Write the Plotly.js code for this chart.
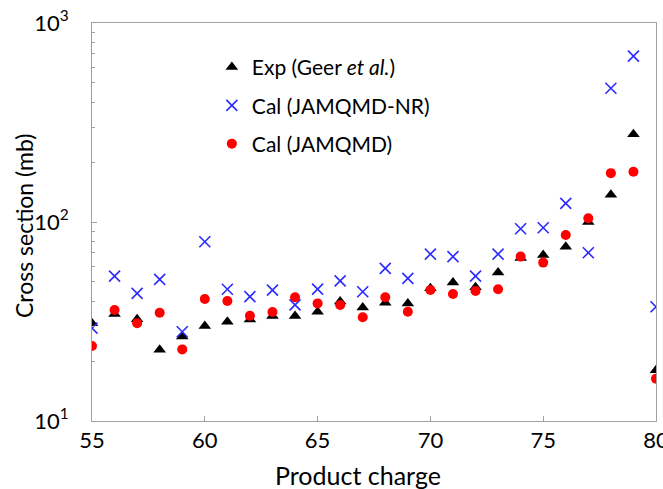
<!DOCTYPE html>
<html>
<head>
<meta charset="utf-8">
<script src="https://cdn.plot.ly/plotly-3.0.1.min.js"></script>
<style>html,body{margin:0;padding:0;background:#fff;}#chart{width:663px;height:489px;}</style>
</head>
<body>
<div id="chart"></div>
<script>
// Product charge (Z)
const charge = [55,56,57,58,59,60,61,62,63,64,65,66,67,68,69,70,71,72,73,74,75,76,77,78,79,80];
// Exp (Geer et al.)
const expGeer = [31,34.5,32.5,22.8,26.6,30,31.5,32.4,33.7,33.7,35.4,39.8,37.2,39.3,39,46.4,49.6,47,55.8,66,68.2,75.2,100,137,276,18.0];
// Cal (JAMQMD-NR)
const calNR = [29.3,53.5,43.8,51.5,28.1,79.6,45.9,42.2,45.5,38.3,46,50.6,44.6,58.5,52.1,69,67,53.5,69,92.5,93.6,124,70.1,470,682,37.5];
// Cal (JAMQMD)
const calQMD = [23.8,36.1,31,35,22.9,41,40.1,33.8,35.3,41.9,39,38.3,33.2,41.9,35.4,45.5,43.5,45,45.9,67,62.5,86,104.5,176,179,16.3];
const yTickVals = [10,100,1000];
const yTickText = ['10<sup>1</sup>','10<sup>2</sup>','10<sup>3</sup>'];
const yMinorVals = [20,30,40,50,60,70,80,90,200,300,400,500,600,700,800,900];
const xTitle = 'Product charge';
const yTitle = 'Cross section (mb)';

const FONT = 'Lato, "Open Sans", sans-serif';

const traces = [
  {x: charge, y: expGeer, type: 'scatter', mode: 'markers', name: 'Exp (Geer <i>et al.</i>)',
   legendgroup: 'a',
   marker: {symbol: 'triangle-up', size: 11, color: '#000000'}},
  {x: charge, y: calNR, type: 'scatter', mode: 'markers', name: 'Cal (JAMQMD-NR)',
   legendgroup: 'b',
   marker: {symbol: 'x-thin-open', size: 11, color: '#2b2bff', line: {width: 1.6, color: '#2b2bff'}}},
  {x: charge, y: calQMD, type: 'scatter', mode: 'markers', name: 'Cal (JAMQMD)',
   legendgroup: 'c',
   marker: {symbol: 'circle', size: 10, color: '#ff0000'}}
];

const layout = {
  width: 663, height: 489,
  margin: {l: 92, r: 7, t: 23, b: 68, pad: 0},
  paper_bgcolor: '#ffffff', plot_bgcolor: '#ffffff',
  font: {family: FONT, size: 18, color: '#000'},
  showlegend: true,
  legend: {x: 0.2125, y: 0.94, xanchor: 'left', yanchor: 'top', bgcolor: 'rgba(0,0,0,0)',
           font: {family: FONT, size: 21, color: '#000'}, tracegroupgap: 8, itemwidth: 30},
  xaxis: {
    range: [55, 80], tickmode: 'linear', tick0: 55, dtick: 5,
    showgrid: false, zeroline: false,
    showline: true, linecolor: '#a0a0a0', linewidth: 1, mirror: true,
    ticks: 'inside', ticklen: 5, tickcolor: '#a0a0a0',
    ticklabeloverflow: 'allow',
    tickfont: {family: FONT, size: 22, color: '#000'}
  },
  yaxis: {
    type: 'log', range: [1, 3],
    tickmode: 'array', tickvals: yTickVals, ticktext: yTickText,
    showgrid: false, zeroline: false,
    showline: true, linecolor: '#a0a0a0', linewidth: 1, mirror: true,
    ticks: 'inside', ticklen: 5, tickcolor: '#a0a0a0',
    ticklabelstandoff: 18,
    minor: {tickmode: 'array', tickvals: yMinorVals, ticks: 'inside', ticklen: 3, tickcolor: '#a0a0a0', showgrid: false},
    tickfont: {family: FONT, size: 22, color: '#000'}
  },
  annotations: [
    {text: xTitle, xref: 'paper', yref: 'paper', x: 0.472, y: -0.093, xanchor: 'center', yanchor: 'top',
     showarrow: false, font: {family: FONT, size: 25, color: '#000'}},
    {text: yTitle, xref: 'paper', yref: 'paper', x: -0.1206, y: 0.49, xanchor: 'center', yanchor: 'middle',
     textangle: -90, showarrow: false, font: {family: FONT, size: 23, color: '#000'}}
  ]
};

Plotly.newPlot('chart', traces, layout, {displayModeBar: false, staticPlot: true});
</script>
</body>
</html>
